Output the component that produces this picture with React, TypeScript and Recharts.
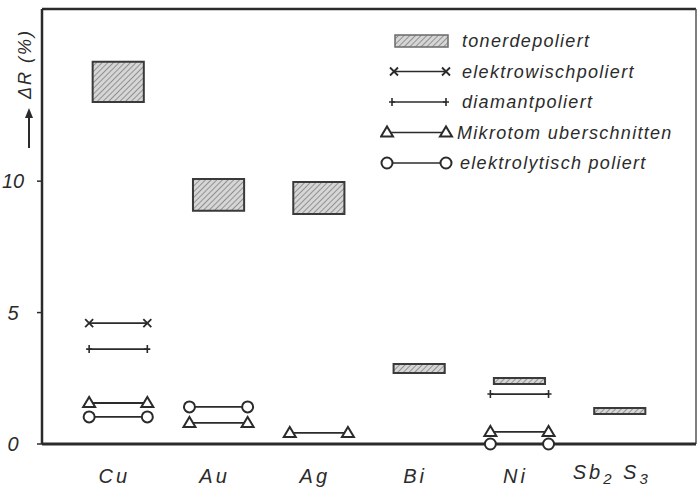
import React from 'react';
import {
  ComposedChart,
  Line,
  XAxis,
  YAxis,
  ReferenceArea,
  ReferenceLine,
  Legend,
} from 'recharts';

// Samples along the x axis (index 0..5)
const categories = ['Cu', 'Au', 'Ag', 'Bi', 'Ni', 'Sb2S3'];

// tonerdepoliert: range of ΔR per sample (lower / upper edge of the box)
const tonerLow = [13.01, 8.87, 8.75, 2.7, 2.28, 1.14];
const tonerHigh = [14.54, 10.08, 9.97, 3.04, 2.51, 1.37];

// single values per sample, null where no measurement exists
const elektrowisch = [4.6, null, null, null, null, null];
const diamant = [3.61, null, null, null, 1.9, null];
const mikrotom = [1.56, 0.8, 0.42, null, 0.46, null];
const elektrolytisch = [1.03, 1.41, null, null, 0, null];

const yTicks = [0, 5, 10];
const X_MIN = -0.76;
const X_MAX = 5.76;
const Y_MAX = 16.55;
const BOX_HALF = 0.255;
const SEG_HALF = 0.29;

const INK = '#2b2b2b';
const FONT = '"Liberation Sans", Arial, sans-serif';

type Kind = 'cross' | 'plus' | 'triangle' | 'circle';

const series: { name: string; kind: Kind; values: (number | null)[] }[] = [
  { name: 'elektrowischpoliert', kind: 'cross', values: elektrowisch },
  { name: 'diamantpoliert', kind: 'plus', values: diamant },
  { name: 'Mikrotom uberschnitten', kind: 'triangle', values: mikrotom },
  { name: 'elektrolytisch poliert', kind: 'circle', values: elektrolytisch },
];

// each value becomes a short horizontal segment centred on its sample
function segments(values: (number | null)[]) {
  const pts: { x: number; y: number | null }[] = [];
  values.forEach((v, i) => {
    if (v == null) return;
    pts.push({ x: i - SEG_HALF, y: v });
    pts.push({ x: i + SEG_HALF, y: v });
    pts.push({ x: i + 0.5, y: null });
  });
  return pts;
}

function Marker({ kind, cx, cy }: { kind: Kind; cx: number; cy: number }) {
  if (kind === 'cross') {
    return (
      <path
        d={`M${cx - 4},${cy - 4}L${cx + 4},${cy + 4}M${cx + 4},${cy - 4}L${cx - 4},${cy + 4}`}
        stroke={INK}
        strokeWidth={1.8}
        fill="none"
      />
    );
  }
  if (kind === 'plus') {
    return (
      <path
        d={`M${cx},${cy - 4}V${cy + 4}M${cx - 3},${cy}H${cx + 3}`}
        stroke={INK}
        strokeWidth={1.6}
        fill="none"
      />
    );
  }
  if (kind === 'triangle') {
    return (
      <path
        d={`M${cx - 6},${cy + 4}L${cx},${cy - 6}L${cx + 6},${cy + 4}Z`}
        stroke={INK}
        strokeWidth={2}
        fill="#fff"
      />
    );
  }
  return <circle cx={cx} cy={cy} r={5.5} stroke={INK} strokeWidth={2} fill="#fff" />;
}

const makeDot = (kind: Kind) => (p: any) => {
  if (p.cy == null || p.value == null || Number.isNaN(p.cy)) {
    return <g key={`d-${kind}-${p.index}`} />;
  }
  return (
    <g key={`d-${kind}-${p.index}`}>
      <Marker kind={kind} cx={p.cx} cy={p.cy} />
    </g>
  );
};

const YTick = (props: any) => {
  const { x, y, payload } = props;
  return (
    <text
      x={x - 22}
      y={y}
      dy={7}
      textAnchor="middle"
      fontFamily={FONT}
      fontStyle="italic"
      fontSize={20}
      fill={INK}
    >
      {payload.value}
    </text>
  );
};

const XTick = (props: any) => {
  const { x, y, payload } = props;
  const name = categories[Math.round(payload.value)];
  const common = {
    fontFamily: FONT,
    fontStyle: 'italic' as const,
    fontSize: 20,
    fill: INK,
    letterSpacing: 3,
  };
  if (name === 'Sb2S3') {
    return (
      <text x={x - 8} y={y + 27} textAnchor="middle" {...common}>
        <tspan>Sb</tspan>
        <tspan dy={5} fontSize={15}>2</tspan>
        <tspan dy={-5}> S</tspan>
        <tspan dy={5} fontSize={15}>3</tspan>
      </text>
    );
  }
  return (
    <text x={x - 4} y={y + 31} textAnchor="middle" {...common}>
      {name}
    </text>
  );
};

const AxisTitle = () => (
  <g>
    <text
      transform="translate(31,64) rotate(-90)"
      textAnchor="middle"
      fontFamily={FONT}
      fontStyle="italic"
      fontSize={18}
      letterSpacing={2}
      fill={INK}
    >
      ΔR (%)
    </text>
    <line x1={29} y1={148} x2={29} y2={116} stroke={INK} strokeWidth={2} />
    <path d="M25,118L29,108L33,118Z" fill={INK} />
  </g>
);

const legendRows: { name: string; kind: Kind | 'box'; textX: number; iconX1: number }[] = [
  { name: 'tonerdepoliert', kind: 'box', textX: 82, iconX1: 15 },
  { name: series[0].name, kind: series[0].kind, textX: 82, iconX1: 14 },
  { name: series[1].name, kind: series[1].kind, textX: 82, iconX1: 12 },
  { name: series[2].name, kind: series[2].kind, textX: 77, iconX1: 7 },
  { name: series[3].name, kind: series[3].kind, textX: 80, iconX1: 7 },
];

const LegendBox = () => (
  <svg width={317} height={160} style={{ display: 'block' }}>
    {legendRows.map((r, i) => {
      const cy = 16 + i * 30.5;
      const iconX2 = 66;
      return (
        <g key={r.name}>
          {r.kind === 'box' ? (
            <rect
              x={r.iconX1}
              y={cy - 6}
              width={iconX2 - r.iconX1 + 2}
              height={12}
              fill="url(#toner)"
              stroke="#6a6a6a"
              strokeWidth={1.5}
            />
          ) : (
            <g>
              <line x1={r.iconX1} y1={cy} x2={iconX2} y2={cy} stroke={INK} strokeWidth={1.5} />
              <Marker kind={r.kind} cx={r.iconX1} cy={cy} />
              <Marker kind={r.kind} cx={iconX2} cy={cy} />
            </g>
          )}
          <text
            x={r.textX}
            y={cy + 6}
            fontFamily={FONT}
            fontStyle="italic"
            fontSize={18}
            letterSpacing={1.3}
            fill={INK}
          >
            {r.name}
          </text>
        </g>
      );
    })}
  </svg>
);

export default function App() {
  return (
    <div style={{ position: 'absolute', left: 0, top: 0, width: 697, height: 487, background: '#fff' }}>
      <ComposedChart width={697} height={487} margin={{ top: 9, right: 1, bottom: 0, left: 0 }}>
        <defs>
          <pattern
            id="toner"
            patternUnits="userSpaceOnUse"
            width={4}
            height={4}
            patternTransform="rotate(45)"
          >
            <rect width={4} height={4} fill="#d6d6d6" />
            <line x1={0} y1={0} x2={0} y2={4} stroke="#808080" strokeWidth={1.6} />
          </pattern>
        </defs>
        <XAxis
          type="number"
          dataKey="x"
          domain={[X_MIN, X_MAX]}
          ticks={categories.map((_, i) => i)}
          tick={<XTick />}
          tickLine={false}
          height={43}
          axisLine={{ stroke: INK, strokeWidth: 3 }}
        />
        <YAxis
          type="number"
          domain={[0, Y_MAX]}
          ticks={yTicks}
          width={42}
          tick={<YTick />}
          tickSize={5}
          tickLine={{ stroke: INK, strokeWidth: 1.5 }}
          axisLine={{ stroke: INK, strokeWidth: 2.5 }}
          label={<AxisTitle />}
        />
        <ReferenceLine y={Y_MAX} stroke={INK} strokeWidth={2.5} />
        <ReferenceLine x={X_MAX} stroke="#555" strokeWidth={1.5} />
        {categories.map((c, i) => (
          <ReferenceArea
            key={c}
            x1={i - BOX_HALF}
            x2={i + BOX_HALF}
            y1={tonerLow[i]}
            y2={tonerHigh[i]}
            fill="url(#toner)"
            fillOpacity={1}
            stroke="#3a3a3a"
            strokeWidth={2}
          />
        ))}
        {series.map((s) => (
          <Line
            key={s.name}
            name={s.name}
            data={segments(s.values)}
            dataKey="y"
            type="linear"
            stroke={INK}
            strokeWidth={1.8}
            connectNulls={false}
            dot={makeDot(s.kind)}
            activeDot={false}
            isAnimationActive={false}
          />
        ))}
        <Legend
          layout="horizontal"
          verticalAlign="middle"
          align="center"
          width={317}
          wrapperStyle={{ left: 380, top: 25, width: 317 }}
          content={() => <LegendBox />}
        />
      </ComposedChart>
    </div>
  );
}
